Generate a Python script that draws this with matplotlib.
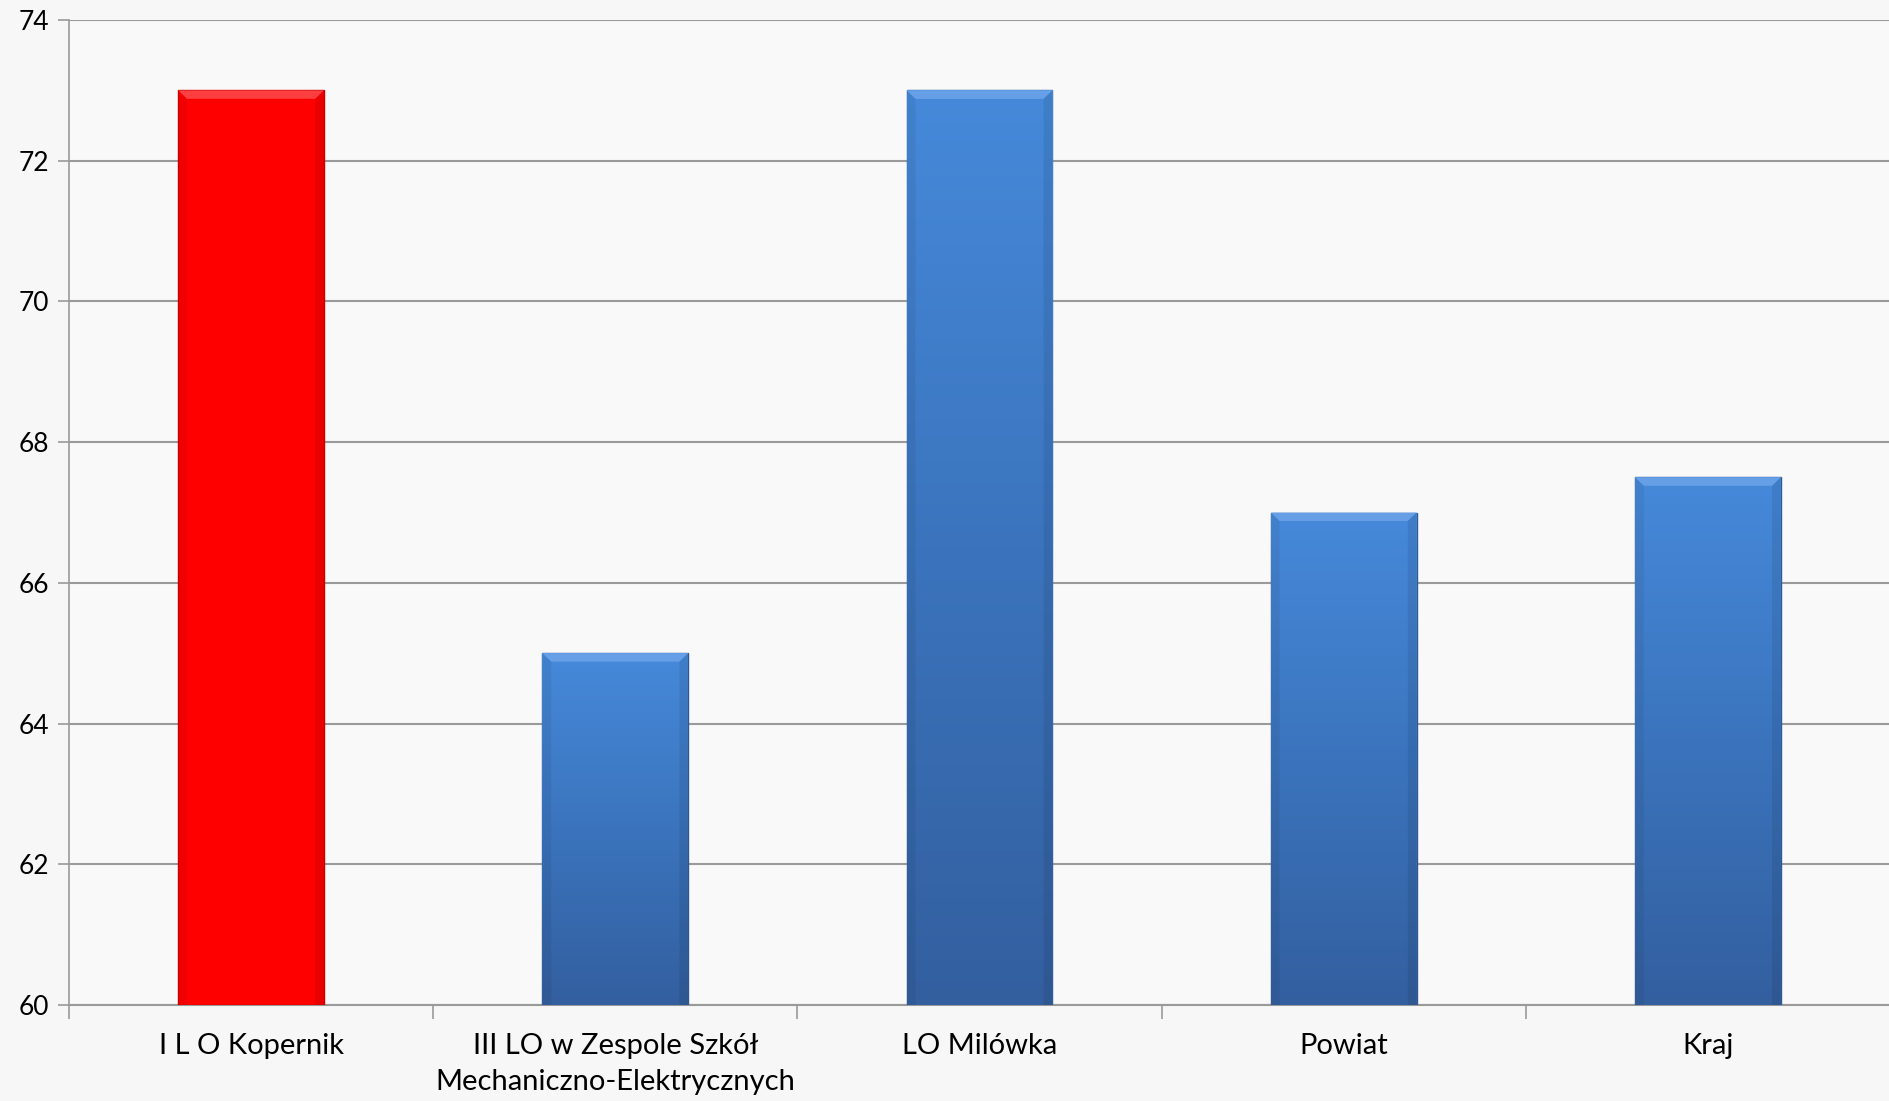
import numpy as np
import matplotlib
matplotlib.use('Agg')
import matplotlib.pyplot as plt
from matplotlib.patches import Polygon
from matplotlib.colors import LinearSegmentedColormap

# dane
categories = ['I L O Kopernik', 'III LO w Zespole Szkół\nMechaniczno-Elektrycznych',
              'LO Milówka', 'Powiat', 'Kraj']
values = [73, 65, 73, 67, 67.5]
highlight = [True, False, False, False, False]

plt.rcParams['font.family'] = ['Lato', 'DejaVu Sans']

fig = plt.figure(figsize=(18.9, 11.01), dpi=100)
fig.patch.set_facecolor('#f7f7f7')
ax = fig.add_axes([0.0365, 0.0872, 0.9635, 0.8946])
ax.set_facecolor('#f9f9f9')

x = np.arange(len(categories))
w = 0.4
base = 60

blue_cmap = LinearSegmentedColormap.from_list('b', ['#335f9f', '#3b74bd', '#4689da'])

for xi, v, hl in zip(x, values, highlight):
    if hl:
        bar = ax.bar(xi, v - base, bottom=base, width=w, color='#ff0000',
                     edgecolor='#d00000', linewidth=1, zorder=3)[0]
        light = '#ff5050'
    else:
        bar = ax.bar(xi, v - base, bottom=base, width=w, color='#3d78c4',
                     edgecolor='#2f5a94', linewidth=1, zorder=3)[0]
        grad = np.linspace(0, 1, 256).reshape(-1, 1)
        im = ax.imshow(grad, extent=(xi - w / 2, xi + w / 2, base, v), origin='lower',
                       aspect='auto', cmap=blue_cmap, zorder=3.1)
        im.set_clip_path(bar)
        light = '#6fa6ea'
    # faza na górze słupka
    dx, dy = 0.024, 0.12
    ax.add_patch(Polygon([(xi - w / 2, v), (xi + w / 2, v), (xi + w / 2 - dx, v - dy),
                          (xi - w / 2 + dx, v - dy)], closed=True, facecolor=light,
                         edgecolor='none', alpha=0.8, zorder=3.2))
    ax.add_patch(Polygon([(xi - w / 2, v), (xi - w / 2 + dx, v - dy),
                          (xi - w / 2 + dx, base), (xi - w / 2, base)], closed=True,
                         facecolor='black', edgecolor='none', alpha=0.06, zorder=3.2))
    ax.add_patch(Polygon([(xi + w / 2, v), (xi + w / 2 - dx, v - dy),
                          (xi + w / 2 - dx, base), (xi + w / 2, base)], closed=True,
                         facecolor='black', edgecolor='none', alpha=0.08, zorder=3.2))

ax.set_xlim(-0.5, len(categories) - 0.5)
ax.set_ylim(60, 74)
ax.set_yticks(np.arange(60, 75, 2))
ax.yaxis.grid(True, color='#9a9a9a', linewidth=1.5, zorder=0)
ax.set_axisbelow(True)

ax.set_xticks(x)
ax.set_xticklabels(categories, fontsize=21, linespacing=1.5)
ax.set_xticks(np.arange(-0.5, len(categories), 1), minor=True)
ax.tick_params(axis='x', which='major', length=0, pad=20)
ax.tick_params(axis='x', which='minor', length=10, width=1.2, color='#9a9a9a')
ax.tick_params(axis='y', length=8, width=1.2, color='#9a9a9a', labelsize=19, pad=6)

for s in ['top', 'right']:
    ax.spines[s].set_visible(False)
ax.spines['left'].set_color('#9a9a9a')
ax.spines['left'].set_linewidth(1.2)
ax.spines['bottom'].set_color('#9a9a9a')
ax.spines['bottom'].set_linewidth(1.5)

plt.savefig('out.png', dpi=100, facecolor=fig.get_facecolor())
